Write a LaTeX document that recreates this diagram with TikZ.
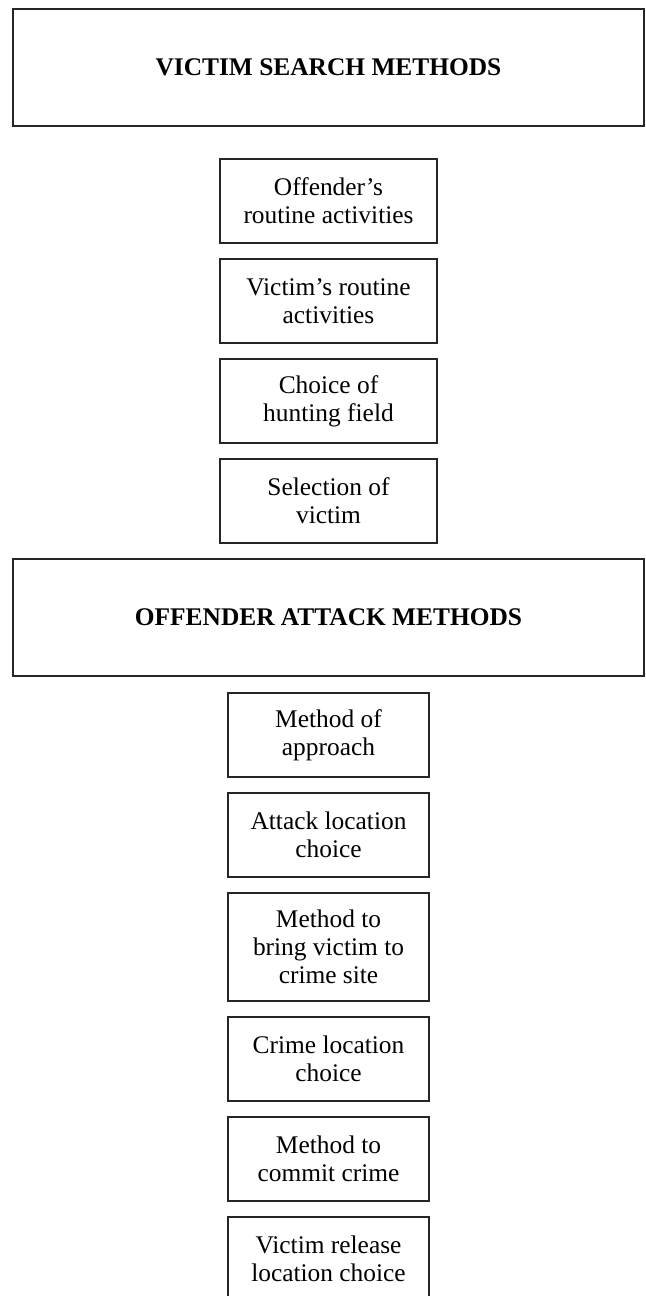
\documentclass[tikz,border=0pt]{standalone}
\usepackage{fontspec}
\setmainfont{Liberation Serif}
\usetikzlibrary{positioning}

\tikzset{
    headbox/.style = {draw=black!85, line width=0.9pt, outer sep=0pt,
        minimum width=315.5pt, minimum height=58.5pt,
        font=\fontsize{12.7}{14}\selectfont\bfseries},
    itembox/.style = {draw=black!85, line width=0.9pt, outer sep=0pt, inner sep=2pt,
        minimum width=108.5pt, minimum height=42pt, align=center,
        font=\fontsize{12.7}{14}\selectfont},
    lowbox/.style = {itembox, minimum width=100.5pt}
}

\begin{document}
\begin{tikzpicture}[node distance=8pt]
    % Page frame
    \useasboundingbox (0,0) rectangle (323pt,-648pt);

    % Victim search section
    \node[headbox] (search) at (164.25pt,-33.75pt) {VICTIM SEARCH METHODS};
    \node[itembox, below=16.5pt of search] (offroutine) {Offender's\\routine activities};
    \node[itembox, below=of offroutine] (vicroutine) {Victim's routine\\activities};
    \node[itembox, below=of vicroutine] (hunting) {Choice of\\hunting field};
    \node[itembox, below=of hunting] (selection) {Selection of\\victim};

    % Offender attack section
    \node[headbox, below=of selection] (attack) {OFFENDER ATTACK METHODS};
    \node[lowbox, below=8.5pt of attack] (approach) {Method of\\approach};
    \node[lowbox, below=of approach] (attackloc) {Attack location\\choice};
    \node[lowbox, below=of attackloc, minimum height=54pt] (bring) {Method to\\bring victim to\\crime site};
    \node[lowbox, below=of bring] (crimeloc) {Crime location\\choice};
    \node[lowbox, below=of crimeloc] (commit) {Method to\\commit crime};
    \node[lowbox, below=of commit] (release) {Victim release\\location choice};

\end{tikzpicture}
\end{document}
